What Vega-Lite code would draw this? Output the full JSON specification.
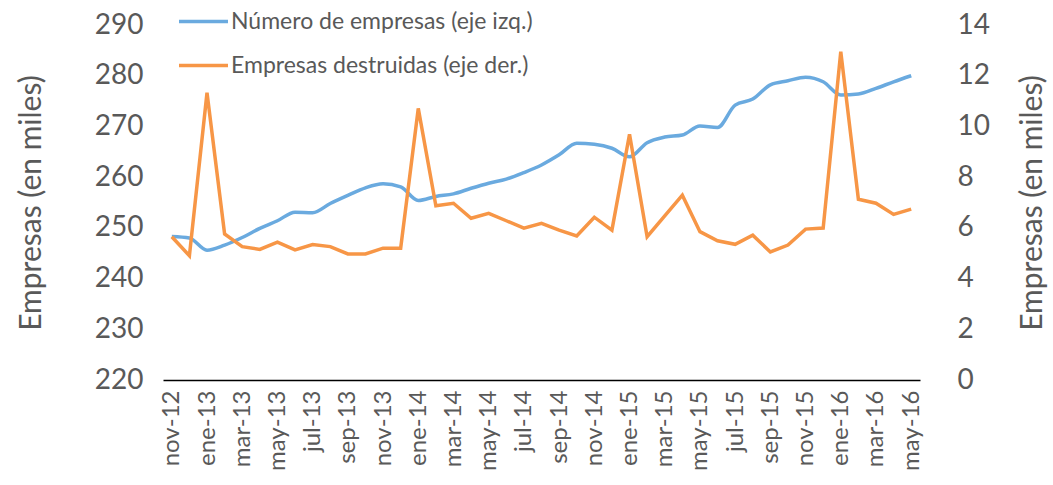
{
  "$schema": "https://vega.github.io/schema/vega-lite/v6.json",
  "width": 757,
  "height": 355,
  "autosize": "none",
  "padding": {"left": 163, "top": 25, "right": 133, "bottom": 105},
  "background": "white",
  "config": {
    "view": {"stroke": null},
    "font": "Lato",
    "axis": {"grid": false, "labelColor": "#595959", "titleColor": "#595959", "labelFont": "Lato", "titleFont": "Lato", "titleFontWeight": "normal"}
  },
  "data": {
    "values": [
      {"mes": "nov-12", "empresas": 248.3, "destruidas": 5.65},
      {"mes": "dic-12", "empresas": 248.0, "destruidas": 4.9},
      {"mes": "ene-13", "empresas": 245.6, "destruidas": 11.33},
      {"mes": "feb-13", "empresas": 246.6, "destruidas": 5.76},
      {"mes": "mar-13", "empresas": 248.1, "destruidas": 5.26},
      {"mes": "abr-13", "empresas": 249.9, "destruidas": 5.15},
      {"mes": "may-13", "empresas": 251.4, "destruidas": 5.44},
      {"mes": "jun-13", "empresas": 253.1, "destruidas": 5.13},
      {"mes": "jul-13", "empresas": 253.0, "destruidas": 5.34},
      {"mes": "ago-13", "empresas": 254.8, "destruidas": 5.26},
      {"mes": "sep-13", "empresas": 256.4, "destruidas": 4.97},
      {"mes": "oct-13", "empresas": 257.9, "destruidas": 4.97},
      {"mes": "nov-13", "empresas": 258.7, "destruidas": 5.2},
      {"mes": "dic-13", "empresas": 258.1, "destruidas": 5.2},
      {"mes": "ene-14", "empresas": 255.4, "destruidas": 10.71},
      {"mes": "feb-14", "empresas": 256.2, "destruidas": 6.87},
      {"mes": "mar-14", "empresas": 256.7, "destruidas": 6.97},
      {"mes": "abr-14", "empresas": 257.8, "destruidas": 6.38},
      {"mes": "may-14", "empresas": 258.8, "destruidas": 6.57},
      {"mes": "jun-14", "empresas": 259.6, "destruidas": 6.28},
      {"mes": "jul-14", "empresas": 260.9, "destruidas": 5.99},
      {"mes": "ago-14", "empresas": 262.4, "destruidas": 6.18},
      {"mes": "sep-14", "empresas": 264.4, "destruidas": 5.91},
      {"mes": "oct-14", "empresas": 266.7, "destruidas": 5.68},
      {"mes": "nov-14", "empresas": 266.5, "destruidas": 6.42},
      {"mes": "dic-14", "empresas": 265.7, "destruidas": 5.91},
      {"mes": "ene-15", "empresas": 264.0, "destruidas": 9.69},
      {"mes": "feb-15", "empresas": 266.8, "destruidas": 5.65},
      {"mes": "mar-15", "empresas": 267.9, "destruidas": 6.47},
      {"mes": "abr-15", "empresas": 268.3, "destruidas": 7.29},
      {"mes": "may-15", "empresas": 270.1, "destruidas": 5.85},
      {"mes": "jun-15", "empresas": 269.8, "destruidas": 5.49},
      {"mes": "jul-15", "empresas": 274.2, "destruidas": 5.35},
      {"mes": "ago-15", "empresas": 275.4, "destruidas": 5.71},
      {"mes": "sep-15", "empresas": 278.2, "destruidas": 5.05},
      {"mes": "oct-15", "empresas": 279.0, "destruidas": 5.32},
      {"mes": "nov-15", "empresas": 279.7, "destruidas": 5.95},
      {"mes": "dic-15", "empresas": 278.8, "destruidas": 5.99},
      {"mes": "ene-16", "empresas": 276.2, "destruidas": 12.95},
      {"mes": "feb-16", "empresas": 276.4, "destruidas": 7.13},
      {"mes": "mar-16", "empresas": 277.5, "destruidas": 6.97},
      {"mes": "abr-16", "empresas": 278.8, "destruidas": 6.53},
      {"mes": "may-16", "empresas": 280.0, "destruidas": 6.74}
    ]
  },
  "encoding": {
    "x": {
      "field": "mes", "type": "ordinal", "sort": null,
      "scale": {"type": "point", "padding": 0.5},
      "axis": {
        "title": null, "labelAngle": -90, "labelFontSize": 24, "labelPadding": 10,
        "ticks": false, "domainColor": "#000000", "domainWidth": 1.5,
        "labelExpr": "indexof(['nov-12','ene-13','mar-13','may-13','jul-13','sep-13','nov-13','ene-14','mar-14','may-14','jul-14','sep-14','nov-14','ene-15','mar-15','may-15','jul-15','sep-15','nov-15','ene-16','mar-16','may-16'], datum.value) >= 0 ? datum.value : ''",
        "labelOverlap": false
      }
    }
  },
  "layer": [
    {
      "mark": {"type": "line", "strokeWidth": 3.5, "interpolate": "monotone"},
      "encoding": {
        "y": {
          "field": "empresas", "type": "quantitative",
          "scale": {"domain": [220, 290], "nice": false, "zero": false},
          "axis": {"title": "Empresas (en miles)", "values": [220, 230, 240, 250, 260, 270, 280, 290], "labelFontSize": 28, "titleFontSize": 30, "domain": false, "ticks": false, "labelPadding": 20, "titlePadding": 48}
        },
        "color": {
          "datum": "Número de empresas (eje izq.)",
          "type": "nominal",
          "scale": {"domain": ["Número de empresas (eje izq.)", "Empresas destruidas (eje der.)"], "range": ["#6AAADF", "#F79646"]},
          "legend": {
            "title": null, "orient": "none", "legendX": 14, "legendY": -30,
            "symbolType": "stroke", "symbolSize": 2400, "symbolStrokeWidth": 3.5,
            "labelFontSize": 23, "labelColor": "#595959", "rowPadding": 5, "labelOffset": 1, "labelLimit": 0
          }
        }
      }
    },
    {
      "mark": {"type": "line", "strokeWidth": 3.5},
      "encoding": {
        "y": {
          "field": "destruidas", "type": "quantitative",
          "scale": {"domain": [0, 14], "nice": false},
          "axis": {"title": "Empresas (en miles)", "orient": "right", "titleAngle": -90, "values": [0, 2, 4, 6, 8, 10, 12, 14], "labelFontSize": 28, "titleFontSize": 30, "domain": false, "ticks": false, "labelPadding": 37, "titlePadding": 58}
        },
        "color": {"datum": "Empresas destruidas (eje der.)", "type": "nominal"}
      }
    }
  ],
  "resolve": {"scale": {"y": "independent"}}
}
